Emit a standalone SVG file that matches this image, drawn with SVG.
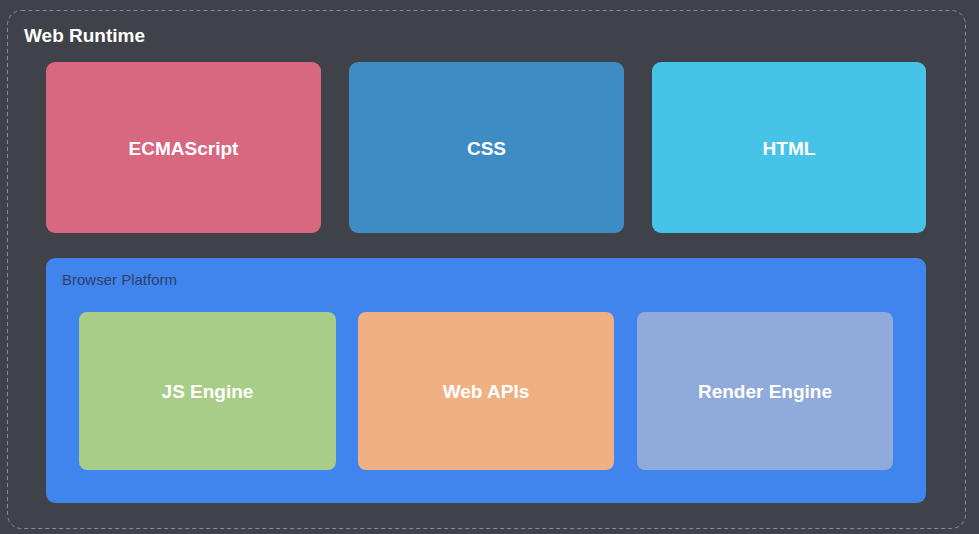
<svg xmlns="http://www.w3.org/2000/svg" width="979" height="534" viewBox="0 0 979 534">
  <style>
    .label { font-family: "Helvetica Neue", "Liberation Sans", Arial, sans-serif; font-weight: bold; fill: #ffffff; text-anchor: middle; dominant-baseline: central; font-size: 19px; }
    .title { font-family: "Liberation Sans", Arial, sans-serif; font-weight: bold; fill: #ffffff; font-size: 19px; }
    .sub { font-family: "Liberation Sans", Arial, sans-serif; fill: #2e4167; font-size: 15px; }
  </style>
  <rect x="0" y="0" width="979" height="534" fill="#3f4248"/>
  <g id="web-runtime">
    <rect x="7.5" y="10.5" width="958" height="518" rx="14" fill="none" stroke="#8a8d93" stroke-width="1" stroke-dasharray="4 3"/>
    <text class="title" x="24" y="42">Web Runtime</text>
  </g>
  <g id="ecmascript">
    <rect x="46" y="62" width="275" height="171" rx="9" fill="#d86780"/>
    <text class="label" x="183.5" y="148">ECMAScript</text>
  </g>
  <g id="css">
    <rect x="349" y="62" width="275" height="171" rx="9" fill="#3d8dc4"/>
    <text class="label" x="486.5" y="148">CSS</text>
  </g>
  <g id="html">
    <rect x="652" y="62" width="274" height="171" rx="9" fill="#48c3e8"/>
    <text class="label" x="789" y="148">HTML</text>
  </g>
  <g id="browser-platform">
    <rect x="46" y="258" width="880" height="245" rx="9" fill="#4084ee"/>
    <text class="sub" x="62" y="285">Browser Platform</text>
  </g>
  <g id="js-engine">
    <rect x="79" y="312" width="257" height="158" rx="8" fill="#a8cd89"/>
    <text class="label" x="207.5" y="391">JS Engine</text>
  </g>
  <g id="web-apis">
    <rect x="358" y="312" width="256" height="158" rx="8" fill="#f0b084"/>
    <text class="label" x="486" y="391">Web APIs</text>
  </g>
  <g id="render-engine">
    <rect x="637" y="312" width="256" height="158" rx="8" fill="#8faadb"/>
    <text class="label" x="765" y="391">Render Engine</text>
  </g>
  <g id="connectors"/>
</svg>
